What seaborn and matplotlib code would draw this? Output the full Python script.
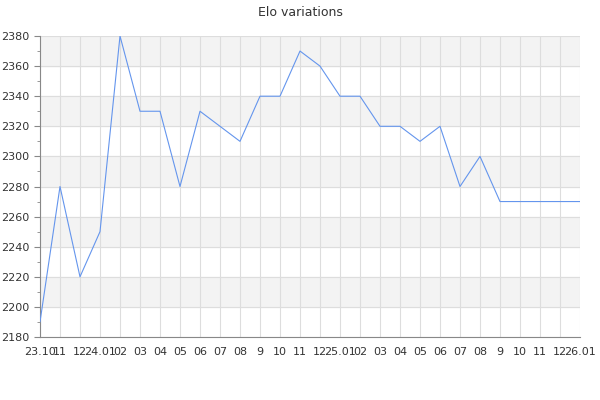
import seaborn as sns
import pandas as pd
import matplotlib.pyplot as plt
from matplotlib.ticker import MultipleLocator

# Month labels and Elo values
labels = ['23.10', '11', '12', '24.01', '02', '03', '04', '05', '06', '07', '08', '9', '10', '11', '12',
          '25.01', '02', '03', '04', '05', '06', '07', '08', '9', '10', '11', '12', '26.01']
elo = [2190, 2280, 2220, 2250, 2380, 2330, 2330, 2280, 2330, 2320, 2310, 2340, 2340, 2370, 2360,
       2340, 2340, 2320, 2320, 2310, 2320, 2280, 2300, 2270, 2270, 2270, 2270, 2270]

df = pd.DataFrame({'pos': range(len(labels)), 'elo': elo})

sns.set_style('white')
plt.rcParams['font.family'] = ['DejaVu Sans']

fig = plt.figure(figsize=(6, 4), dpi=100)
ax = fig.add_axes([40/600, 63/400, 540/600, 301/400])

# alternating bands every 20 points
for lo in range(2200, 2380, 40):
    ax.axhspan(lo, lo + 20, color='#f3f3f3', zorder=0)
ax.axhspan(2360, 2380, color='#f3f3f3', zorder=0)

sns.lineplot(data=df, x='pos', y='elo', color='#6495ed', linewidth=0.8, ax=ax, zorder=3)

ax.set_xlim(0, len(labels) - 1)
ax.set_ylim(2180, 2380)
ax.set_xticks(df['pos'])
ax.set_xticklabels(labels)
ax.yaxis.set_major_locator(MultipleLocator(20))
ax.yaxis.set_minor_locator(MultipleLocator(10))
ax.grid(True, which='major', color='#dddddd', linewidth=0.8, zorder=1)
ax.set_axisbelow(True)

for s in ['top', 'right']:
    ax.spines[s].set_visible(False)
for s in ['left', 'bottom']:
    ax.spines[s].set_color('#888888')
    ax.spines[s].set_linewidth(0.8)

ax.tick_params(axis='y', which='both', left=True, color='#888888', labelsize=8, labelcolor='#333333', length=4)
ax.tick_params(axis='y', which='minor', length=2)
ax.tick_params(axis='x', bottom=False, labelsize=8, labelcolor='#333333', pad=4)
ax.set_xlabel('')
ax.set_ylabel('')
fig.text(0.5, 1 - 12/400, 'Elo variations', ha='center', va='center', fontsize=9, color='#333333')

fig.savefig('out.png', dpi=100)
